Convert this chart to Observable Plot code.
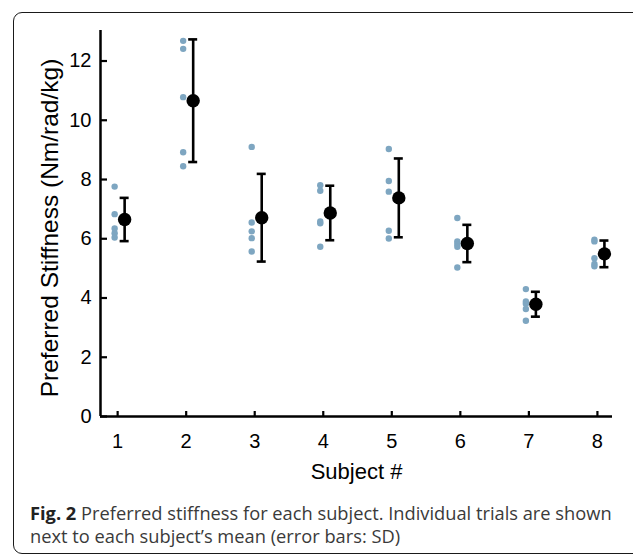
<!DOCTYPE html>
<html><head><meta charset="utf-8">
<script src="https://cdn.jsdelivr.net/npm/d3@7"></script>
<script src="https://cdn.jsdelivr.net/npm/@observablehq/plot@0.6"></script>
<style>
body{margin:0;background:#fff}
#wrap{position:relative;width:633px;height:555px;overflow:hidden;background:#fff}
#border{position:absolute;left:13px;top:12px;width:650px;height:540px;border:1.5px solid #1a1a1a;border-radius:9px}
#chart{position:absolute;left:0;top:0}
#caption{position:absolute;left:30px;top:501px;font-family:"Open Sans",sans-serif;font-size:17px;line-height:23px;color:#3a3a3a;white-space:nowrap}
#caption b{color:#222}
</style></head><body>
<div id="wrap"><div id="border"></div><div id="chart"></div>
<div id="caption"><span id="l1"><b>Fig. 2</b> Preferred stiffness for each subject. Individual trials are shown</span><br>next to each subject’s mean (error bars: SD)</div></div>
<script>
const subjects = [1, 2, 3, 4, 5, 6, 7, 8];
const trialsBySubject = [
  [7.76, 6.83, 6.35, 6.19, 6.04],
  [12.68, 12.41, 10.78, 8.92, 8.45],
  [9.10, 6.55, 6.25, 6.02, 5.57],
  [7.81, 7.62, 6.58, 6.52, 5.73],
  [9.03, 7.95, 7.59, 6.27, 6.01],
  [6.70, 5.91, 5.82, 5.73, 5.03],
  [4.30, 3.88, 3.81, 3.63, 3.23],
  [5.97, 5.91, 5.34, 5.15, 5.07]
];
const means = [6.65, 10.66, 6.71, 6.87, 7.38, 5.84, 3.79, 5.49];
const sds = [0.73, 2.07, 1.48, 0.92, 1.33, 0.63, 0.42, 0.45];
const yTicks = [0, 2, 4, 6, 8, 10, 12];
const xDomain = [0.75, 8.22];
const yDomain = [0, 13.03];
const yLabel = "Preferred Stiffness (Nm/rad/kg)";
const xLabel = "Subject #";

const trials = subjects.flatMap((s, i) => trialsBySubject[i].map(v => ({subject: s, value: v})));
const summary = subjects.map((s, i) => ({subject: s, mean: means[i], lo: means[i] - sds[i], hi: means[i] + sds[i]}));

const chart = Plot.plot({
  width: 633, height: 490,
  marginLeft: 100, marginRight: 21, marginTop: 30, marginBottom: 74,
  style: {fontFamily: "'Liberation Sans', Arial, sans-serif", fontSize: "20px", color: "#000", background: "transparent", overflow: "visible"},
  x: {domain: xDomain, axis: null},
  y: {domain: yDomain, axis: null},
  marks: [
    Plot.ruleX([xDomain[0]], {strokeWidth: 2.5, stroke: "#000"}),
    Plot.ruleY([yDomain[0]], {strokeWidth: 2.5, stroke: "#000"}),
    Plot.ruleY(yTicks, {y: d => d, x1: xDomain[0], x2: xDomain[0], insetRight: -7, strokeWidth: 2.2, stroke: "#000"}),
    Plot.text(yTicks, {x: xDomain[0], y: d => d, text: d => String(d), textAnchor: "end", dx: -9, fontSize: 20, fill: "#000"}),
    Plot.ruleX(subjects, {x: d => d, y1: yDomain[0], y2: yDomain[0], insetTop: -5, strokeWidth: 2.2, stroke: "#000"}),
    Plot.text(subjects, {x: d => d, y: yDomain[0], text: d => String(d), lineAnchor: "top", dy: 17, fontSize: 20, fill: "#000"}),
    Plot.dot(trials, {x: "subject", y: "value", dx: -3, r: 3.2, fill: "#7ea6c1"}),
    Plot.ruleX(summary, {x: "subject", y1: "lo", y2: "hi", dx: 7, strokeWidth: 2.6, stroke: "#000"}),
    Plot.ruleY(summary, {y: "hi", x1: "subject", x2: "subject", dx: 7, insetLeft: -4.5, insetRight: -4.5, strokeWidth: 2.6, stroke: "#000"}),
    Plot.ruleY(summary, {y: "lo", x1: "subject", x2: "subject", dx: 7, insetLeft: -4.5, insetRight: -4.5, strokeWidth: 2.6, stroke: "#000"}),
    Plot.dot(summary, {x: "subject", y: "mean", dx: 7, r: 6.7, fill: "#000"}),
    Plot.text([yLabel], {text: d => d, frameAnchor: "left", textAnchor: "middle", lineAnchor: "middle", rotate: -90, dx: -50, dy: 4.5, fontSize: 24.5, fill: "#000"}),
    Plot.text([xLabel], {text: d => d, frameAnchor: "bottom", textAnchor: "middle", lineAnchor: "middle", dy: 55, fontSize: 22, fill: "#000"})
  ]
});
document.getElementById("chart").append(chart);
const l1 = document.getElementById("l1");
const w = l1.getBoundingClientRect().width;
const cap = document.getElementById("caption");
cap.style.fontSize = (17 * 582 / w).toFixed(2) + "px";
</script>
</body></html>
